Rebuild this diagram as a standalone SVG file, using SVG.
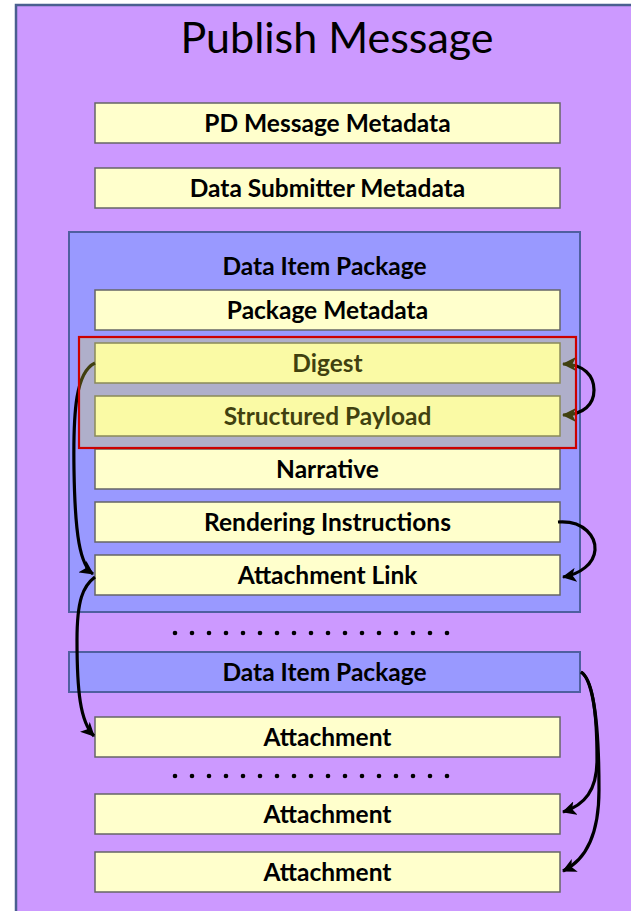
<svg xmlns="http://www.w3.org/2000/svg" width="631" height="911" viewBox="0 0 631 911">
<defs>
<style>
.box{fill:#FFFFCC;stroke:#666666;stroke-width:1.5}
.pkg{fill:#9999FF;stroke:#4F5FA0;stroke-width:2}
.lbl{font-family:Lato,"Liberation Sans",sans-serif;font-weight:bold;font-size:24.5px;fill:#000;text-anchor:middle}
.title{font-family:Lato,"Liberation Sans",sans-serif;font-size:43px;fill:#000;text-anchor:middle}
.con{fill:none;stroke:#000;stroke-width:3.2}
.dot{fill:#000}
</style>
<marker id="ah" markerUnits="userSpaceOnUse" markerWidth="16" markerHeight="14" refX="13" refY="7" orient="auto-start-reverse">
<path d="M0,0 L14,7 L0,14 L3.5,7 z" fill="#000"/>
</marker>
</defs>
<g id="publish-message">
<rect x="16" y="5" width="630" height="920" fill="#CC99FF" stroke="#4A5F8F" stroke-width="2.5"/>
<text class="title" x="337" y="53">Publish Message</text>
</g>
<g id="pd-message-metadata">
<rect class="box" x="95" y="103" width="465" height="40"/>
<text class="lbl" x="327.5" y="131.5">PD Message Metadata</text>
</g>
<g id="data-submitter-metadata">
<rect class="box" x="95" y="168" width="465" height="40"/>
<text class="lbl" x="327.5" y="196.5">Data Submitter Metadata</text>
</g>
<g id="data-item-package-1">
<rect class="pkg" x="69" y="232" width="511" height="380"/>
<text class="lbl" x="324.5" y="274.5">Data Item Package</text>
</g>
<g id="package-metadata">
<rect class="box" x="95" y="290" width="465" height="40"/>
<text class="lbl" x="327.5" y="318.5">Package Metadata</text>
</g>
<g id="digest">
<rect class="box" x="95" y="343" width="465" height="40"/>
<text class="lbl" x="327.5" y="371.5">Digest</text>
</g>
<g id="structured-payload">
<rect class="box" x="95" y="396" width="465" height="40"/>
<text class="lbl" x="327.5" y="424.5">Structured Payload</text>
</g>
<g id="narrative">
<rect class="box" x="95" y="449" width="465" height="40"/>
<text class="lbl" x="327.5" y="477.5">Narrative</text>
</g>
<g id="rendering-instructions">
<rect class="box" x="95" y="502" width="465" height="40"/>
<text class="lbl" x="327.5" y="530.5">Rendering Instructions</text>
</g>
<g id="attachment-link">
<rect class="box" x="95" y="555" width="465" height="40"/>
<text class="lbl" x="327.5" y="583.5">Attachment Link</text>
</g>
<g id="ellipsis-1">
<circle class="dot" cx="175" cy="633" r="2.3"/><circle class="dot" cx="192" cy="633" r="2.3"/><circle class="dot" cx="209" cy="633" r="2.3"/><circle class="dot" cx="226" cy="633" r="2.3"/><circle class="dot" cx="243" cy="633" r="2.3"/><circle class="dot" cx="260" cy="633" r="2.3"/><circle class="dot" cx="277" cy="633" r="2.3"/><circle class="dot" cx="294" cy="633" r="2.3"/><circle class="dot" cx="311" cy="633" r="2.3"/><circle class="dot" cx="328" cy="633" r="2.3"/><circle class="dot" cx="345" cy="633" r="2.3"/><circle class="dot" cx="362" cy="633" r="2.3"/><circle class="dot" cx="379" cy="633" r="2.3"/><circle class="dot" cx="396" cy="633" r="2.3"/><circle class="dot" cx="413" cy="633" r="2.3"/><circle class="dot" cx="430" cy="633" r="2.3"/><circle class="dot" cx="447" cy="633" r="2.3"/>
</g>
<g id="data-item-package-2">
<rect class="pkg" x="69" y="652" width="511" height="40"/>
<text class="lbl" x="324.5" y="680.5">Data Item Package</text>
</g>
<g id="attachment-1">
<rect class="box" x="95" y="717" width="465" height="40"/>
<text class="lbl" x="327.5" y="745.5">Attachment</text>
</g>
<g id="ellipsis-2">
<circle class="dot" cx="175" cy="776" r="2.3"/><circle class="dot" cx="192" cy="776" r="2.3"/><circle class="dot" cx="209" cy="776" r="2.3"/><circle class="dot" cx="226" cy="776" r="2.3"/><circle class="dot" cx="243" cy="776" r="2.3"/><circle class="dot" cx="260" cy="776" r="2.3"/><circle class="dot" cx="277" cy="776" r="2.3"/><circle class="dot" cx="294" cy="776" r="2.3"/><circle class="dot" cx="311" cy="776" r="2.3"/><circle class="dot" cx="328" cy="776" r="2.3"/><circle class="dot" cx="345" cy="776" r="2.3"/><circle class="dot" cx="362" cy="776" r="2.3"/><circle class="dot" cx="379" cy="776" r="2.3"/><circle class="dot" cx="396" cy="776" r="2.3"/><circle class="dot" cx="413" cy="776" r="2.3"/><circle class="dot" cx="430" cy="776" r="2.3"/><circle class="dot" cx="447" cy="776" r="2.3"/>
</g>
<g id="attachment-2">
<rect class="box" x="95" y="794" width="465" height="40"/>
<text class="lbl" x="327.5" y="822.5">Attachment</text>
</g>
<g id="attachment-3">
<rect class="box" x="95" y="852" width="465" height="40"/>
<text class="lbl" x="327.5" y="880.5">Attachment</text>
</g>
<g id="connectors">
<path class="con" d="M95,363 C76,372 73,410 74,470 C75,535 80,565 93,574" marker-end="url(#ah)"/>
<path class="con" d="M95,577 C83,586 77,600 77,640 C77,690 80,722 94,736" marker-end="url(#ah)"/>
<path class="con" d="M563,364 C584,364 594,376 594,390 C594,404 584,415 563,415" marker-start="url(#ah)" marker-end="url(#ah)"/>
<path class="con" d="M558,522 C585,520 596,538 595,550 C594,564 580,574 563,577" marker-end="url(#ah)"/>
<path class="con" d="M581,672 C594,680 597,720 597,760 C597,790 585,805 563,812" marker-end="url(#ah)"/>
<path class="con" d="M581,672 C594,680 599,730 599,790 C599,835 586,860 563,871" marker-end="url(#ah)"/>
</g>
<g id="highlight">
<rect x="79" y="337" width="497" height="111" fill="#EDED3B" fill-opacity="0.27" stroke="#CC0000" stroke-width="2.2"/>
</g>
</svg>
